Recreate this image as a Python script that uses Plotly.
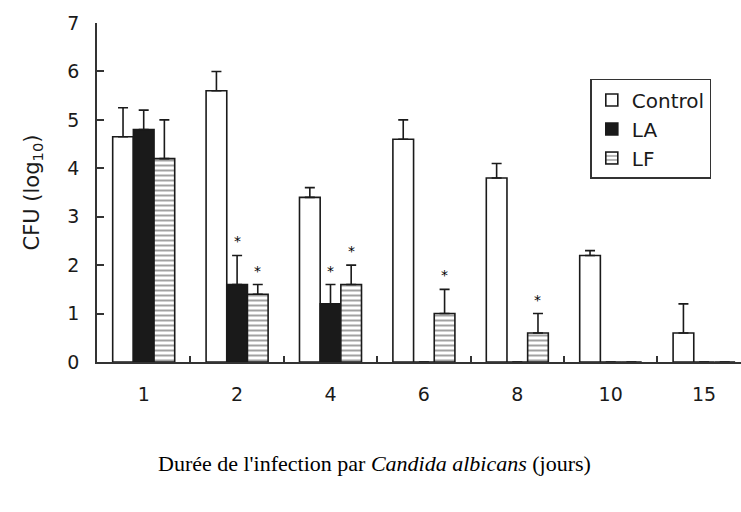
import plotly.graph_objects as go

# Days after Candida albicans infection
days = ["1", "2", "4", "6", "8", "10", "15"]

# Mean CFU (log10) per group and upper error (SD)
control = [4.65, 5.6, 3.4, 4.6, 3.8, 2.2, 0.6]
control_err = [0.6, 0.4, 0.2, 0.4, 0.3, 0.1, 0.6]
la = [4.8, 1.6, 1.2, 0.0, 0.0, 0.0, 0.0]
la_err = [0.4, 0.6, 0.4, 0.0, 0.0, 0.0, 0.0]
lf = [4.2, 1.4, 1.6, 1.0, 0.6, 0.0, 0.0]
lf_err = [0.8, 0.2, 0.4, 0.5, 0.4, 0.0, 0.0]

# Significance markers (days) per treated group
la_sig = ["2", "4"]
lf_sig = ["2", "4", "6", "8"]

INK = "#1a1a1a"
BAR_GAP = 0.336
M_L, M_R, M_T, M_B = 97, 0, 23, 150
W, H = 741, 512
X_RANGE = [-0.5, 6.395]


def err(vals):
    return dict(type="data", array=vals, symmetric=False, arrayminus=[0] * len(vals),
                color=INK, thickness=1.6, width=5)


fig = go.Figure()
fig.add_trace(go.Bar(
    name="Control", x=days, y=control, error_y=err(control_err),
    marker=dict(color="white", line=dict(color=INK, width=1.6)),
))
fig.add_trace(go.Bar(
    name="LA", x=days, y=la, error_y=err(la_err),
    marker=dict(color=INK, line=dict(color=INK, width=1.6)),
))
fig.add_trace(go.Bar(
    name="LF", x=days, y=lf, error_y=err(lf_err),
    marker=dict(color="white", line=dict(color=INK, width=1.6),
                pattern=dict(shape="-", fgcolor="#444", bgcolor="white",
                             size=5, solidity=0.4)),
))

# Asterisks above the error bars, shifted onto each bar of the group
plot_w = W - M_L - M_R
cat_px = plot_w / (X_RANGE[1] - X_RANGE[0])
bar_px = cat_px * (1 - BAR_GAP) / 3
for series, vals, errs, shift in [(la_sig, la, la_err, 0.0), (lf_sig, lf, lf_err, bar_px)]:
    for d in series:
        i = days.index(d)
        fig.add_annotation(
            x=i, y=vals[i] + errs[i], xref="x", yref="y",
            text="*", showarrow=False, xshift=shift, yshift=14,
            yanchor="middle", font=dict(family="DejaVu Sans", size=14, color="black"),
        )

fig.add_annotation(
    x=(W / 2 - M_L + 4) / plot_w, y=-0.3, xref="paper", yref="paper",
    yanchor="middle", xanchor="center", showarrow=False,
    text="Durée de l'infection par <i>Candida albicans</i> (jours)",
    font=dict(family="Liberation Serif", size=22, color="black"),
)

fig.update_layout(
    width=W, height=H,
    margin=dict(l=M_L, r=M_R, t=M_T, b=M_B),
    paper_bgcolor="white", plot_bgcolor="white",
    barmode="group", bargap=BAR_GAP, bargroupgap=0,
    showlegend=True,
    legend=dict(
        x=0.766, y=0.835, xanchor="left", yanchor="top",
        bordercolor="#333", borderwidth=1.5, bgcolor="white",
        font=dict(family="DejaVu Sans", size=20, color=INK),
        tracegroupgap=0, itemwidth=30,
    ),
    xaxis=dict(
        type="category", range=X_RANGE, showgrid=False, zeroline=False,
        showline=True, linecolor="#333", linewidth=1.8,
        ticks="inside", tickson="boundaries", ticklen=6, tickwidth=1.5, tickcolor="#333",
        tickfont=dict(family="DejaVu Sans", size=19, color=INK),
        ticklabelstandoff=14,
    ),
    yaxis=dict(
        range=[0, 7], dtick=1, showgrid=False, zeroline=False,
        showline=True, linecolor="#333", linewidth=1.8,
        ticks="inside", ticklen=7, tickwidth=1.5, tickcolor="#333",
        tickfont=dict(family="DejaVu Sans", size=19, color=INK),
        ticklabelstandoff=12,
        title=dict(text="CFU (log<sub>10</sub>)",
                   font=dict(family="DejaVu Sans", size=21, color=INK), standoff=22),
    ),
)

fig.write_html("out.html")
